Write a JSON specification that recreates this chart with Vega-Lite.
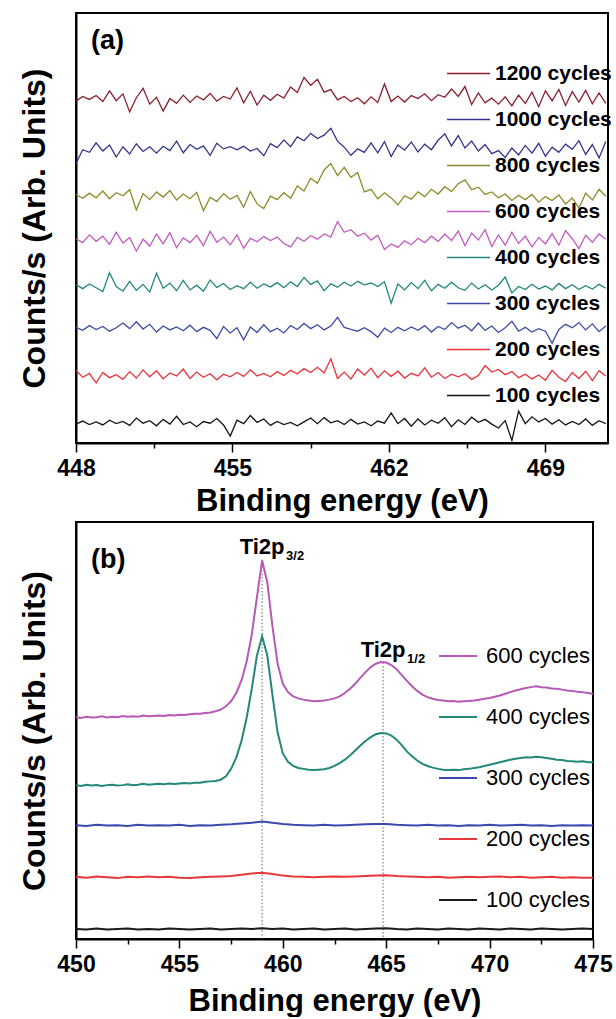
{
"$schema":"https://vega.github.io/schema/vega-lite/v6.json",
"padding":{"left":17,"top":12,"right":0,"bottom":0},
"background":"white",
"config":{
 "font":"Liberation Sans",
 "view":{"stroke":"black","strokeWidth":2},
 "axis":{"grid":false,"domainColor":"black","domainWidth":2,"tickColor":"black","tickWidth":1.5,"labelColor":"black","titleColor":"black","labelFont":"Liberation Sans","titleFont":"Liberation Sans","labelFontWeight":"bold","titleFontWeight":"bold","labelFontSize":23,"titleFontSize":31,"labelFlush":false,"labelOverlap":false},
 "legend":{"labelFont":"Liberation Sans","labelColor":"black"},
 "text":{"font":"Liberation Sans"}
},
"spacing":4,
"resolve":{"scale":{"x":"independent","y":"independent","color":"independent"},"legend":{"color":"independent"}},
"datasets":{
"peaks":[{"x":459.0,"y":91.0,"t":"Ti2p","sub":"3/2"},{"x":464.85,"y":66.3,"t":"Ti2p","sub":"1/2"}],
"a":[
{"s":"1200","x":448.0,"y":79.5},{"s":"1200","x":448.3,"y":80.6},{"s":"1200","x":448.6,"y":79.9},{"s":"1200","x":448.9,"y":80.8},{"s":"1200","x":449.2,"y":79.4},{"s":"1200","x":449.5,"y":81.9},{"s":"1200","x":449.8,"y":79.6},{"s":"1200","x":450.1,"y":81.2},{"s":"1200","x":450.4,"y":77.0},{"s":"1200","x":450.7,"y":80.3},
{"s":"1200","x":451.0,"y":82.5},{"s":"1200","x":451.3,"y":78.8},{"s":"1200","x":451.6,"y":80.4},{"s":"1200","x":451.9,"y":77.2},{"s":"1200","x":452.2,"y":80.1},{"s":"1200","x":452.5,"y":79.0},{"s":"1200","x":452.8,"y":80.9},{"s":"1200","x":453.1,"y":79.2},{"s":"1200","x":453.4,"y":80.7},{"s":"1200","x":453.7,"y":79.8},
{"s":"1200","x":454.0,"y":81.3},{"s":"1200","x":454.3,"y":79.5},{"s":"1200","x":454.6,"y":80.6},{"s":"1200","x":454.9,"y":80.0},{"s":"1200","x":455.2,"y":82.6},{"s":"1200","x":455.5,"y":79.1},{"s":"1200","x":455.8,"y":81.8},{"s":"1200","x":456.1,"y":78.6},{"s":"1200","x":456.4,"y":80.9},{"s":"1200","x":456.7,"y":79.7},
{"s":"1200","x":457.0,"y":81.1},{"s":"1200","x":457.3,"y":80.2},{"s":"1200","x":457.6,"y":82.8},{"s":"1200","x":457.9,"y":81.5},{"s":"1200","x":458.2,"y":85.0},{"s":"1200","x":458.5,"y":83.2},{"s":"1200","x":458.8,"y":84.6},{"s":"1200","x":459.1,"y":81.6},{"s":"1200","x":459.4,"y":82.2},{"s":"1200","x":459.7,"y":79.8},
{"s":"1200","x":460.0,"y":80.6},{"s":"1200","x":460.3,"y":79.4},{"s":"1200","x":460.6,"y":80.3},{"s":"1200","x":460.9,"y":78.9},{"s":"1200","x":461.2,"y":80.5},{"s":"1200","x":461.5,"y":79.2},{"s":"1200","x":461.8,"y":83.5},{"s":"1200","x":462.1,"y":79.4},{"s":"1200","x":462.4,"y":80.7},{"s":"1200","x":462.7,"y":79.3},
{"s":"1200","x":463.0,"y":80.8},{"s":"1200","x":463.3,"y":80.1},{"s":"1200","x":463.6,"y":81.2},{"s":"1200","x":463.9,"y":79.6},{"s":"1200","x":464.2,"y":81.0},{"s":"1200","x":464.5,"y":80.4},{"s":"1200","x":464.8,"y":82.3},{"s":"1200","x":465.1,"y":80.6},{"s":"1200","x":465.4,"y":82.9},{"s":"1200","x":465.7,"y":78.7},
{"s":"1200","x":466.0,"y":81.4},{"s":"1200","x":466.3,"y":79.1},{"s":"1200","x":466.6,"y":80.2},{"s":"1200","x":466.9,"y":78.8},{"s":"1200","x":467.2,"y":80.5},{"s":"1200","x":467.5,"y":78.4},{"s":"1200","x":467.8,"y":80.9},{"s":"1200","x":468.1,"y":79.0},{"s":"1200","x":468.4,"y":81.6},{"s":"1200","x":468.7,"y":78.2},
{"s":"1200","x":469.0,"y":81.9},{"s":"1200","x":469.3,"y":79.6},{"s":"1200","x":469.6,"y":82.2},{"s":"1200","x":469.9,"y":78.5},{"s":"1200","x":470.2,"y":81.7},{"s":"1200","x":470.5,"y":79.3},{"s":"1200","x":470.8,"y":82.0},{"s":"1200","x":471.1,"y":78.9},{"s":"1200","x":471.4,"y":81.4},{"s":"1200","x":471.7,"y":79.0},
{"s":"1000","x":448.0,"y":65.0},{"s":"1000","x":448.3,"y":68.2},{"s":"1000","x":448.6,"y":67.6},{"s":"1000","x":448.9,"y":69.8},{"s":"1000","x":449.2,"y":67.9},{"s":"1000","x":449.5,"y":69.3},{"s":"1000","x":449.8,"y":66.5},{"s":"1000","x":450.1,"y":68.9},{"s":"1000","x":450.4,"y":67.2},{"s":"1000","x":450.7,"y":69.6},
{"s":"1000","x":451.0,"y":67.8},{"s":"1000","x":451.3,"y":68.9},{"s":"1000","x":451.6,"y":67.4},{"s":"1000","x":451.9,"y":69.0},{"s":"1000","x":452.2,"y":68.0},{"s":"1000","x":452.5,"y":70.2},{"s":"1000","x":452.8,"y":67.5},{"s":"1000","x":453.1,"y":69.4},{"s":"1000","x":453.4,"y":68.3},{"s":"1000","x":453.7,"y":69.1},
{"s":"1000","x":454.0,"y":66.9},{"s":"1000","x":454.3,"y":69.7},{"s":"1000","x":454.6,"y":68.4},{"s":"1000","x":454.9,"y":68.9},{"s":"1000","x":455.2,"y":68.2},{"s":"1000","x":455.5,"y":69.0},{"s":"1000","x":455.8,"y":67.9},{"s":"1000","x":456.1,"y":68.5},{"s":"1000","x":456.4,"y":66.8},{"s":"1000","x":456.7,"y":69.6},
{"s":"1000","x":457.0,"y":68.7},{"s":"1000","x":457.3,"y":70.5},{"s":"1000","x":457.6,"y":68.9},{"s":"1000","x":457.9,"y":71.2},{"s":"1000","x":458.2,"y":70.3},{"s":"1000","x":458.5,"y":72.0},{"s":"1000","x":458.8,"y":70.8},{"s":"1000","x":459.1,"y":71.6},{"s":"1000","x":459.4,"y":73.2},{"s":"1000","x":459.7,"y":70.2},
{"s":"1000","x":460.0,"y":68.8},{"s":"1000","x":460.3,"y":66.9},{"s":"1000","x":460.6,"y":68.4},{"s":"1000","x":460.9,"y":67.6},{"s":"1000","x":461.2,"y":69.8},{"s":"1000","x":461.5,"y":67.5},{"s":"1000","x":461.8,"y":70.1},{"s":"1000","x":462.1,"y":66.6},{"s":"1000","x":462.4,"y":69.3},{"s":"1000","x":462.7,"y":68.1},
{"s":"1000","x":463.0,"y":70.0},{"s":"1000","x":463.3,"y":67.7},{"s":"1000","x":463.6,"y":69.5},{"s":"1000","x":463.9,"y":68.2},{"s":"1000","x":464.2,"y":70.4},{"s":"1000","x":464.5,"y":71.9},{"s":"1000","x":464.8,"y":69.1},{"s":"1000","x":465.1,"y":71.5},{"s":"1000","x":465.4,"y":68.6},{"s":"1000","x":465.7,"y":70.2},
{"s":"1000","x":466.0,"y":67.9},{"s":"1000","x":466.3,"y":69.4},{"s":"1000","x":466.6,"y":67.3},{"s":"1000","x":466.9,"y":68.0},{"s":"1000","x":467.2,"y":66.4},{"s":"1000","x":467.5,"y":68.6},{"s":"1000","x":467.8,"y":67.0},{"s":"1000","x":468.1,"y":69.2},{"s":"1000","x":468.4,"y":67.4},{"s":"1000","x":468.7,"y":69.7},
{"s":"1000","x":469.0,"y":66.7},{"s":"1000","x":469.3,"y":68.8},{"s":"1000","x":469.6,"y":67.6},{"s":"1000","x":469.9,"y":69.5},{"s":"1000","x":470.2,"y":68.3},{"s":"1000","x":470.5,"y":70.3},{"s":"1000","x":470.8,"y":67.1},{"s":"1000","x":471.1,"y":69.4},{"s":"1000","x":471.4,"y":66.3},{"s":"1000","x":471.7,"y":70.1},
{"s":"800","x":448.0,"y":57.8},{"s":"800","x":448.3,"y":56.9},{"s":"800","x":448.6,"y":58.1},{"s":"800","x":448.9,"y":57.0},{"s":"800","x":449.2,"y":58.6},{"s":"800","x":449.5,"y":56.8},{"s":"800","x":449.8,"y":58.2},{"s":"800","x":450.1,"y":57.5},{"s":"800","x":450.4,"y":58.9},{"s":"800","x":450.7,"y":54.2},
{"s":"800","x":451.0,"y":58.0},{"s":"800","x":451.3,"y":56.6},{"s":"800","x":451.6,"y":58.4},{"s":"800","x":451.9,"y":57.2},{"s":"800","x":452.2,"y":58.7},{"s":"800","x":452.5,"y":56.5},{"s":"800","x":452.8,"y":57.9},{"s":"800","x":453.1,"y":56.8},{"s":"800","x":453.4,"y":58.3},{"s":"800","x":453.7,"y":54.0},
{"s":"800","x":454.0,"y":57.1},{"s":"800","x":454.3,"y":56.2},{"s":"800","x":454.6,"y":58.0},{"s":"800","x":454.9,"y":56.7},{"s":"800","x":455.2,"y":57.6},{"s":"800","x":455.5,"y":54.8},{"s":"800","x":455.8,"y":58.5},{"s":"800","x":456.1,"y":55.6},{"s":"800","x":456.4,"y":54.5},{"s":"800","x":456.7,"y":57.4},
{"s":"800","x":457.0,"y":56.6},{"s":"800","x":457.3,"y":58.2},{"s":"800","x":457.6,"y":56.9},{"s":"800","x":457.9,"y":59.8},{"s":"800","x":458.2,"y":58.6},{"s":"800","x":458.5,"y":61.6},{"s":"800","x":458.8,"y":60.4},{"s":"800","x":459.1,"y":63.5},{"s":"800","x":459.4,"y":65.0},{"s":"800","x":459.7,"y":62.2},
{"s":"800","x":460.0,"y":64.1},{"s":"800","x":460.3,"y":61.8},{"s":"800","x":460.6,"y":62.9},{"s":"800","x":460.9,"y":58.4},{"s":"800","x":461.2,"y":59.0},{"s":"800","x":461.5,"y":56.8},{"s":"800","x":461.8,"y":58.2},{"s":"800","x":462.1,"y":57.0},{"s":"800","x":462.4,"y":55.4},{"s":"800","x":462.7,"y":57.5},
{"s":"800","x":463.0,"y":56.7},{"s":"800","x":463.3,"y":58.4},{"s":"800","x":463.6,"y":57.3},{"s":"800","x":463.9,"y":59.0},{"s":"800","x":464.2,"y":57.9},{"s":"800","x":464.5,"y":59.6},{"s":"800","x":464.8,"y":58.5},{"s":"800","x":465.1,"y":60.3},{"s":"800","x":465.4,"y":61.2},{"s":"800","x":465.7,"y":58.9},
{"s":"800","x":466.0,"y":59.5},{"s":"800","x":466.3,"y":57.8},{"s":"800","x":466.6,"y":58.4},{"s":"800","x":466.9,"y":57.0},{"s":"800","x":467.2,"y":57.9},{"s":"800","x":467.5,"y":56.4},{"s":"800","x":467.8,"y":57.6},{"s":"800","x":468.1,"y":56.6},{"s":"800","x":468.4,"y":57.8},{"s":"800","x":468.7,"y":56.0},
{"s":"800","x":469.0,"y":57.3},{"s":"800","x":469.3,"y":56.4},{"s":"800","x":469.6,"y":57.7},{"s":"800","x":469.9,"y":55.6},{"s":"800","x":470.2,"y":57.0},{"s":"800","x":470.5,"y":54.6},{"s":"800","x":470.8,"y":58.1},{"s":"800","x":471.1,"y":56.5},{"s":"800","x":471.4,"y":59.0},{"s":"800","x":471.7,"y":57.4},
{"s":"600","x":448.0,"y":47.5},{"s":"600","x":448.3,"y":46.6},{"s":"600","x":448.6,"y":48.4},{"s":"600","x":448.9,"y":46.9},{"s":"600","x":449.2,"y":48.1},{"s":"600","x":449.5,"y":46.2},{"s":"600","x":449.8,"y":49.0},{"s":"600","x":450.1,"y":46.5},{"s":"600","x":450.4,"y":47.8},{"s":"600","x":450.7,"y":44.6},
{"s":"600","x":451.0,"y":47.4},{"s":"600","x":451.3,"y":45.8},{"s":"600","x":451.6,"y":48.6},{"s":"600","x":451.9,"y":46.3},{"s":"600","x":452.2,"y":48.9},{"s":"600","x":452.5,"y":45.4},{"s":"600","x":452.8,"y":47.7},{"s":"600","x":453.1,"y":46.6},{"s":"600","x":453.4,"y":48.3},{"s":"600","x":453.7,"y":45.9},
{"s":"600","x":454.0,"y":49.2},{"s":"600","x":454.3,"y":46.7},{"s":"600","x":454.6,"y":47.9},{"s":"600","x":454.9,"y":46.1},{"s":"600","x":455.2,"y":48.4},{"s":"600","x":455.5,"y":45.3},{"s":"600","x":455.8,"y":47.6},{"s":"600","x":456.1,"y":46.8},{"s":"600","x":456.4,"y":48.0},{"s":"600","x":456.7,"y":47.1},
{"s":"600","x":457.0,"y":47.9},{"s":"600","x":457.3,"y":46.4},{"s":"600","x":457.6,"y":45.6},{"s":"600","x":457.9,"y":47.8},{"s":"600","x":458.2,"y":46.9},{"s":"600","x":458.5,"y":48.2},{"s":"600","x":458.8,"y":47.4},{"s":"600","x":459.1,"y":48.6},{"s":"600","x":459.4,"y":47.9},{"s":"600","x":459.7,"y":51.5},
{"s":"600","x":460.0,"y":49.0},{"s":"600","x":460.3,"y":49.6},{"s":"600","x":460.6,"y":48.1},{"s":"600","x":460.9,"y":48.8},{"s":"600","x":461.2,"y":47.2},{"s":"600","x":461.5,"y":48.3},{"s":"600","x":461.8,"y":45.0},{"s":"600","x":462.1,"y":46.3},{"s":"600","x":462.4,"y":45.5},{"s":"600","x":462.7,"y":47.0},
{"s":"600","x":463.0,"y":46.1},{"s":"600","x":463.3,"y":47.6},{"s":"600","x":463.6,"y":46.6},{"s":"600","x":463.9,"y":48.1},{"s":"600","x":464.2,"y":46.9},{"s":"600","x":464.5,"y":48.6},{"s":"600","x":464.8,"y":47.1},{"s":"600","x":465.1,"y":49.3},{"s":"600","x":465.4,"y":45.9},{"s":"600","x":465.7,"y":48.8},
{"s":"600","x":466.0,"y":47.2},{"s":"600","x":466.3,"y":49.6},{"s":"600","x":466.6,"y":45.7},{"s":"600","x":466.9,"y":48.4},{"s":"600","x":467.2,"y":46.0},{"s":"600","x":467.5,"y":49.0},{"s":"600","x":467.8,"y":46.4},{"s":"600","x":468.1,"y":48.1},{"s":"600","x":468.4,"y":45.6},{"s":"600","x":468.7,"y":47.8},
{"s":"600","x":469.0,"y":46.3},{"s":"600","x":469.3,"y":48.7},{"s":"600","x":469.6,"y":46.0},{"s":"600","x":469.9,"y":49.4},{"s":"600","x":470.2,"y":47.5},{"s":"600","x":470.5,"y":45.2},{"s":"600","x":470.8,"y":48.3},{"s":"600","x":471.1,"y":46.7},{"s":"600","x":471.4,"y":48.6},{"s":"600","x":471.7,"y":47.4},
{"s":"400","x":448.0,"y":36.8},{"s":"400","x":448.3,"y":35.9},{"s":"400","x":448.6,"y":37.0},{"s":"400","x":448.9,"y":36.1},{"s":"400","x":449.2,"y":35.2},{"s":"400","x":449.5,"y":39.6},{"s":"400","x":449.8,"y":36.4},{"s":"400","x":450.1,"y":35.3},{"s":"400","x":450.4,"y":37.6},{"s":"400","x":450.7,"y":35.5},
{"s":"400","x":451.0,"y":36.9},{"s":"400","x":451.3,"y":35.1},{"s":"400","x":451.6,"y":39.5},{"s":"400","x":451.9,"y":36.0},{"s":"400","x":452.2,"y":37.2},{"s":"400","x":452.5,"y":35.4},{"s":"400","x":452.8,"y":37.8},{"s":"400","x":453.1,"y":35.6},{"s":"400","x":453.4,"y":36.7},{"s":"400","x":453.7,"y":35.3},
{"s":"400","x":454.0,"y":37.9},{"s":"400","x":454.3,"y":36.2},{"s":"400","x":454.6,"y":37.1},{"s":"400","x":454.9,"y":35.7},{"s":"400","x":455.2,"y":36.6},{"s":"400","x":455.5,"y":35.9},{"s":"400","x":455.8,"y":37.4},{"s":"400","x":456.1,"y":36.0},{"s":"400","x":456.4,"y":37.0},{"s":"400","x":456.7,"y":36.3},
{"s":"400","x":457.0,"y":37.3},{"s":"400","x":457.3,"y":36.1},{"s":"400","x":457.6,"y":37.5},{"s":"400","x":457.9,"y":36.4},{"s":"400","x":458.2,"y":38.5},{"s":"400","x":458.5,"y":36.9},{"s":"400","x":458.8,"y":37.7},{"s":"400","x":459.1,"y":35.4},{"s":"400","x":459.4,"y":37.0},{"s":"400","x":459.7,"y":36.2},
{"s":"400","x":460.0,"y":37.4},{"s":"400","x":460.3,"y":36.5},{"s":"400","x":460.6,"y":37.6},{"s":"400","x":460.9,"y":36.8},{"s":"400","x":461.2,"y":37.2},{"s":"400","x":461.5,"y":36.4},{"s":"400","x":461.8,"y":37.5},{"s":"400","x":462.1,"y":32.5},{"s":"400","x":462.4,"y":37.0},{"s":"400","x":462.7,"y":35.6},
{"s":"400","x":463.0,"y":37.3},{"s":"400","x":463.3,"y":35.9},{"s":"400","x":463.6,"y":37.8},{"s":"400","x":463.9,"y":35.4},{"s":"400","x":464.2,"y":36.9},{"s":"400","x":464.5,"y":36.0},{"s":"400","x":464.8,"y":37.4},{"s":"400","x":465.1,"y":36.1},{"s":"400","x":465.4,"y":35.5},{"s":"400","x":465.7,"y":37.2},
{"s":"400","x":466.0,"y":35.8},{"s":"400","x":466.3,"y":36.8},{"s":"400","x":466.6,"y":35.6},{"s":"400","x":466.9,"y":36.7},{"s":"400","x":467.2,"y":38.6},{"s":"400","x":467.5,"y":34.9},{"s":"400","x":467.8,"y":36.4},{"s":"400","x":468.1,"y":35.7},{"s":"400","x":468.4,"y":36.9},{"s":"400","x":468.7,"y":35.8},
{"s":"400","x":469.0,"y":36.5},{"s":"400","x":469.3,"y":35.6},{"s":"400","x":469.6,"y":37.1},{"s":"400","x":469.9,"y":35.9},{"s":"400","x":470.2,"y":36.8},{"s":"400","x":470.5,"y":35.7},{"s":"400","x":470.8,"y":36.6},{"s":"400","x":471.1,"y":35.8},{"s":"400","x":471.4,"y":36.9},{"s":"400","x":471.7,"y":36.0},
{"s":"300","x":448.0,"y":26.9},{"s":"300","x":448.3,"y":26.2},{"s":"300","x":448.6,"y":27.3},{"s":"300","x":448.9,"y":26.4},{"s":"300","x":449.2,"y":27.1},{"s":"300","x":449.5,"y":26.0},{"s":"300","x":449.8,"y":26.8},{"s":"300","x":450.1,"y":27.9},{"s":"300","x":450.4,"y":26.6},{"s":"300","x":450.7,"y":28.2},
{"s":"300","x":451.0,"y":26.5},{"s":"300","x":451.3,"y":27.6},{"s":"300","x":451.6,"y":25.8},{"s":"300","x":451.9,"y":27.2},{"s":"300","x":452.2,"y":26.3},{"s":"300","x":452.5,"y":27.0},{"s":"300","x":452.8,"y":26.1},{"s":"300","x":453.1,"y":27.4},{"s":"300","x":453.4,"y":25.9},{"s":"300","x":453.7,"y":26.9},
{"s":"300","x":454.0,"y":26.2},{"s":"300","x":454.3,"y":24.3},{"s":"300","x":454.6,"y":27.1},{"s":"300","x":454.9,"y":25.6},{"s":"300","x":455.2,"y":26.8},{"s":"300","x":455.5,"y":24.0},{"s":"300","x":455.8,"y":27.0},{"s":"300","x":456.1,"y":25.7},{"s":"300","x":456.4,"y":27.5},{"s":"300","x":456.7,"y":25.9},
{"s":"300","x":457.0,"y":26.7},{"s":"300","x":457.3,"y":25.6},{"s":"300","x":457.6,"y":27.3},{"s":"300","x":457.9,"y":26.4},{"s":"300","x":458.2,"y":27.8},{"s":"300","x":458.5,"y":26.6},{"s":"300","x":458.8,"y":27.5},{"s":"300","x":459.1,"y":26.3},{"s":"300","x":459.4,"y":27.2},{"s":"300","x":459.7,"y":29.2},
{"s":"300","x":460.0,"y":26.9},{"s":"300","x":460.3,"y":26.4},{"s":"300","x":460.6,"y":26.0},{"s":"300","x":460.9,"y":26.8},{"s":"300","x":461.2,"y":25.9},{"s":"300","x":461.5,"y":24.6},{"s":"300","x":461.8,"y":26.7},{"s":"300","x":462.1,"y":25.7},{"s":"300","x":462.4,"y":26.9},{"s":"300","x":462.7,"y":26.1},
{"s":"300","x":463.0,"y":27.0},{"s":"300","x":463.3,"y":26.2},{"s":"300","x":463.6,"y":27.3},{"s":"300","x":463.9,"y":25.8},{"s":"300","x":464.2,"y":27.1},{"s":"300","x":464.5,"y":26.4},{"s":"300","x":464.8,"y":28.0},{"s":"300","x":465.1,"y":26.7},{"s":"300","x":465.4,"y":27.4},{"s":"300","x":465.7,"y":26.1},
{"s":"300","x":466.0,"y":27.9},{"s":"300","x":466.3,"y":26.2},{"s":"300","x":466.6,"y":27.2},{"s":"300","x":466.9,"y":25.7},{"s":"300","x":467.2,"y":26.8},{"s":"300","x":467.5,"y":28.3},{"s":"300","x":467.8,"y":26.0},{"s":"300","x":468.1,"y":26.9},{"s":"300","x":468.4,"y":25.8},{"s":"300","x":468.7,"y":26.6},
{"s":"300","x":469.0,"y":26.0},{"s":"300","x":469.3,"y":23.2},{"s":"300","x":469.6,"y":26.4},{"s":"300","x":469.9,"y":27.6},{"s":"300","x":470.2,"y":26.8},{"s":"300","x":470.5,"y":28.0},{"s":"300","x":470.8,"y":26.3},{"s":"300","x":471.1,"y":27.7},{"s":"300","x":471.4,"y":25.9},{"s":"300","x":471.7,"y":27.2},
{"s":"200","x":448.0,"y":16.9},{"s":"200","x":448.3,"y":15.3},{"s":"200","x":448.6,"y":16.2},{"s":"200","x":448.9,"y":14.0},{"s":"200","x":449.2,"y":16.4},{"s":"200","x":449.5,"y":15.2},{"s":"200","x":449.8,"y":15.9},{"s":"200","x":450.1,"y":14.8},{"s":"200","x":450.4,"y":16.6},{"s":"200","x":450.7,"y":15.1},
{"s":"200","x":451.0,"y":17.0},{"s":"200","x":451.3,"y":15.4},{"s":"200","x":451.6,"y":16.8},{"s":"200","x":451.9,"y":14.9},{"s":"200","x":452.2,"y":16.3},{"s":"200","x":452.5,"y":15.6},{"s":"200","x":452.8,"y":17.2},{"s":"200","x":453.1,"y":15.0},{"s":"200","x":453.4,"y":16.5},{"s":"200","x":453.7,"y":15.3},
{"s":"200","x":454.0,"y":16.1},{"s":"200","x":454.3,"y":14.7},{"s":"200","x":454.6,"y":16.0},{"s":"200","x":454.9,"y":15.4},{"s":"200","x":455.2,"y":16.4},{"s":"200","x":455.5,"y":15.5},{"s":"200","x":455.8,"y":17.0},{"s":"200","x":456.1,"y":15.6},{"s":"200","x":456.4,"y":16.2},{"s":"200","x":456.7,"y":15.4},
{"s":"200","x":457.0,"y":16.6},{"s":"200","x":457.3,"y":15.7},{"s":"200","x":457.6,"y":16.9},{"s":"200","x":457.9,"y":16.1},{"s":"200","x":458.2,"y":17.3},{"s":"200","x":458.5,"y":16.4},{"s":"200","x":458.8,"y":17.6},{"s":"200","x":459.1,"y":16.3},{"s":"200","x":459.4,"y":19.6},{"s":"200","x":459.7,"y":15.0},
{"s":"200","x":460.0,"y":16.5},{"s":"200","x":460.3,"y":14.9},{"s":"200","x":460.6,"y":17.2},{"s":"200","x":460.9,"y":15.8},{"s":"200","x":461.2,"y":17.4},{"s":"200","x":461.5,"y":15.2},{"s":"200","x":461.8,"y":16.8},{"s":"200","x":462.1,"y":15.5},{"s":"200","x":462.4,"y":16.7},{"s":"200","x":462.7,"y":15.1},
{"s":"200","x":463.0,"y":16.2},{"s":"200","x":463.3,"y":15.6},{"s":"200","x":463.6,"y":17.5},{"s":"200","x":463.9,"y":15.3},{"s":"200","x":464.2,"y":16.4},{"s":"200","x":464.5,"y":15.0},{"s":"200","x":464.8,"y":16.0},{"s":"200","x":465.1,"y":15.4},{"s":"200","x":465.4,"y":16.1},{"s":"200","x":465.7,"y":14.8},
{"s":"200","x":466.0,"y":15.7},{"s":"200","x":466.3,"y":18.0},{"s":"200","x":466.6,"y":16.5},{"s":"200","x":466.9,"y":17.1},{"s":"200","x":467.2,"y":15.9},{"s":"200","x":467.5,"y":16.6},{"s":"200","x":467.8,"y":15.2},{"s":"200","x":468.1,"y":16.0},{"s":"200","x":468.4,"y":14.9},{"s":"200","x":468.7,"y":15.8},
{"s":"200","x":469.0,"y":14.6},{"s":"200","x":469.3,"y":16.9},{"s":"200","x":469.6,"y":15.3},{"s":"200","x":469.9,"y":14.3},{"s":"200","x":470.2,"y":16.4},{"s":"200","x":470.5,"y":15.0},{"s":"200","x":470.8,"y":16.7},{"s":"200","x":471.1,"y":14.5},{"s":"200","x":471.4,"y":16.8},{"s":"200","x":471.7,"y":15.6},
{"s":"100","x":448.0,"y":4.4},{"s":"100","x":448.3,"y":5.1},{"s":"100","x":448.6,"y":4.3},{"s":"100","x":448.9,"y":4.9},{"s":"100","x":449.2,"y":4.2},{"s":"100","x":449.5,"y":5.3},{"s":"100","x":449.8,"y":4.5},{"s":"100","x":450.1,"y":5.0},{"s":"100","x":450.4,"y":4.1},{"s":"100","x":450.7,"y":5.8},
{"s":"100","x":451.0,"y":4.6},{"s":"100","x":451.3,"y":5.2},{"s":"100","x":451.6,"y":4.0},{"s":"100","x":451.9,"y":5.5},{"s":"100","x":452.2,"y":4.4},{"s":"100","x":452.5,"y":6.2},{"s":"100","x":452.8,"y":4.3},{"s":"100","x":453.1,"y":4.9},{"s":"100","x":453.4,"y":3.8},{"s":"100","x":453.7,"y":5.0},
{"s":"100","x":454.0,"y":4.6},{"s":"100","x":454.3,"y":5.7},{"s":"100","x":454.6,"y":4.2},{"s":"100","x":454.9,"y":1.6},{"s":"100","x":455.2,"y":5.3},{"s":"100","x":455.5,"y":4.5},{"s":"100","x":455.8,"y":6.4},{"s":"100","x":456.1,"y":4.8},{"s":"100","x":456.4,"y":5.6},{"s":"100","x":456.7,"y":4.1},
{"s":"100","x":457.0,"y":5.0},{"s":"100","x":457.3,"y":4.3},{"s":"100","x":457.6,"y":4.8},{"s":"100","x":457.9,"y":4.0},{"s":"100","x":458.2,"y":4.9},{"s":"100","x":458.5,"y":5.8},{"s":"100","x":458.8,"y":4.5},{"s":"100","x":459.1,"y":5.9},{"s":"100","x":459.4,"y":4.7},{"s":"100","x":459.7,"y":5.2},
{"s":"100","x":460.0,"y":4.3},{"s":"100","x":460.3,"y":5.5},{"s":"100","x":460.6,"y":4.4},{"s":"100","x":460.9,"y":4.9},{"s":"100","x":461.2,"y":4.0},{"s":"100","x":461.5,"y":5.1},{"s":"100","x":461.8,"y":4.6},{"s":"100","x":462.1,"y":7.0},{"s":"100","x":462.4,"y":4.5},{"s":"100","x":462.7,"y":5.7},
{"s":"100","x":463.0,"y":3.9},{"s":"100","x":463.3,"y":5.6},{"s":"100","x":463.6,"y":4.2},{"s":"100","x":463.9,"y":5.3},{"s":"100","x":464.2,"y":4.6},{"s":"100","x":464.5,"y":5.9},{"s":"100","x":464.8,"y":3.8},{"s":"100","x":465.1,"y":5.4},{"s":"100","x":465.4,"y":4.3},{"s":"100","x":465.7,"y":6.0},
{"s":"100","x":466.0,"y":4.8},{"s":"100","x":466.3,"y":5.5},{"s":"100","x":466.6,"y":4.4},{"s":"100","x":466.9,"y":3.5},{"s":"100","x":467.2,"y":5.2},{"s":"100","x":467.5,"y":0.6},{"s":"100","x":467.8,"y":7.4},{"s":"100","x":468.1,"y":4.5},{"s":"100","x":468.4,"y":6.1},{"s":"100","x":468.7,"y":4.9},
{"s":"100","x":469.0,"y":5.7},{"s":"100","x":469.3,"y":4.4},{"s":"100","x":469.6,"y":5.4},{"s":"100","x":469.9,"y":4.2},{"s":"100","x":470.2,"y":5.0},{"s":"100","x":470.5,"y":4.3},{"s":"100","x":470.8,"y":5.6},{"s":"100","x":471.1,"y":4.1},{"s":"100","x":471.4,"y":5.2},{"s":"100","x":471.7,"y":4.5}
],
"b":[
{"s":"600","x":450.0,"y":53.2},{"s":"600","x":450.25,"y":53.0},{"s":"600","x":450.5,"y":53.3},{"s":"600","x":450.75,"y":53.1},{"s":"600","x":451.0,"y":53.2},{"s":"600","x":451.25,"y":53.4},{"s":"600","x":451.5,"y":53.1},{"s":"600","x":451.75,"y":53.3},{"s":"600","x":452.0,"y":53.2},{"s":"600","x":452.25,"y":53.5},
{"s":"600","x":452.5,"y":53.3},{"s":"600","x":452.75,"y":53.4},{"s":"600","x":453.0,"y":53.3},{"s":"600","x":453.25,"y":53.6},{"s":"600","x":453.5,"y":53.4},{"s":"600","x":453.75,"y":53.5},{"s":"600","x":454.0,"y":53.6},{"s":"600","x":454.25,"y":53.5},{"s":"600","x":454.5,"y":53.7},{"s":"600","x":454.75,"y":53.6},
{"s":"600","x":455.0,"y":53.8},{"s":"600","x":455.25,"y":53.7},{"s":"600","x":455.5,"y":53.9},{"s":"600","x":455.75,"y":54.0},{"s":"600","x":456.0,"y":54.0},{"s":"600","x":456.25,"y":54.2},{"s":"600","x":456.5,"y":54.3},{"s":"600","x":456.75,"y":54.6},{"s":"600","x":457.0,"y":55.0},{"s":"600","x":457.25,"y":55.8},
{"s":"600","x":457.5,"y":57.0},{"s":"600","x":457.75,"y":59.0},{"s":"600","x":458.0,"y":62.0},{"s":"600","x":458.25,"y":66.5},{"s":"600","x":458.5,"y":73.0},{"s":"600","x":458.75,"y":82.0},{"s":"600","x":459.0,"y":90.8},{"s":"600","x":459.25,"y":85.5},{"s":"600","x":459.5,"y":75.0},{"s":"600","x":459.75,"y":66.0},
{"s":"600","x":460.0,"y":61.2},{"s":"600","x":460.25,"y":59.2},{"s":"600","x":460.5,"y":58.2},{"s":"600","x":460.75,"y":57.7},{"s":"600","x":461.0,"y":57.4},{"s":"600","x":461.25,"y":57.2},{"s":"600","x":461.5,"y":57.0},{"s":"600","x":461.75,"y":57.1},{"s":"600","x":462.0,"y":57.2},{"s":"600","x":462.25,"y":57.4},
{"s":"600","x":462.5,"y":57.7},{"s":"600","x":462.75,"y":58.2},{"s":"600","x":463.0,"y":59.0},{"s":"600","x":463.25,"y":60.0},{"s":"600","x":463.5,"y":61.2},{"s":"600","x":463.75,"y":62.6},{"s":"600","x":464.0,"y":64.0},{"s":"600","x":464.25,"y":65.2},{"s":"600","x":464.5,"y":66.0},{"s":"600","x":464.75,"y":66.4},
{"s":"600","x":465.0,"y":66.3},{"s":"600","x":465.25,"y":65.7},{"s":"600","x":465.5,"y":64.7},{"s":"600","x":465.75,"y":63.3},{"s":"600","x":466.0,"y":61.9},{"s":"600","x":466.25,"y":60.6},{"s":"600","x":466.5,"y":59.5},{"s":"600","x":466.75,"y":58.6},{"s":"600","x":467.0,"y":58.0},{"s":"600","x":467.25,"y":57.6},
{"s":"600","x":467.5,"y":57.3},{"s":"600","x":467.75,"y":57.2},{"s":"600","x":468.0,"y":57.0},{"s":"600","x":468.25,"y":57.1},{"s":"600","x":468.5,"y":56.9},{"s":"600","x":468.75,"y":57.0},{"s":"600","x":469.0,"y":57.1},{"s":"600","x":469.25,"y":57.2},{"s":"600","x":469.5,"y":57.4},{"s":"600","x":469.75,"y":57.6},
{"s":"600","x":470.0,"y":57.8},{"s":"600","x":470.25,"y":58.1},{"s":"600","x":470.5,"y":58.4},{"s":"600","x":470.75,"y":58.8},{"s":"600","x":471.0,"y":59.2},{"s":"600","x":471.25,"y":59.6},{"s":"600","x":471.5,"y":59.9},{"s":"600","x":471.75,"y":60.2},{"s":"600","x":472.0,"y":60.4},{"s":"600","x":472.25,"y":60.6},
{"s":"600","x":472.5,"y":60.4},{"s":"600","x":472.75,"y":60.3},{"s":"600","x":473.0,"y":60.1},{"s":"600","x":473.25,"y":60.0},{"s":"600","x":473.5,"y":59.8},{"s":"600","x":473.75,"y":59.6},{"s":"600","x":474.0,"y":59.5},{"s":"600","x":474.25,"y":59.3},{"s":"600","x":474.5,"y":59.2},{"s":"600","x":474.75,"y":59.0},{"s":"600","x":475.0,"y":58.8},
{"s":"400","x":450.0,"y":36.9},{"s":"400","x":450.25,"y":36.7},{"s":"400","x":450.5,"y":37.0},{"s":"400","x":450.75,"y":36.8},{"s":"400","x":451.0,"y":36.9},{"s":"400","x":451.25,"y":36.7},{"s":"400","x":451.5,"y":36.9},{"s":"400","x":451.75,"y":37.0},{"s":"400","x":452.0,"y":36.8},{"s":"400","x":452.25,"y":36.9},
{"s":"400","x":452.5,"y":37.1},{"s":"400","x":452.75,"y":36.9},{"s":"400","x":453.0,"y":37.0},{"s":"400","x":453.25,"y":37.2},{"s":"400","x":453.5,"y":37.0},{"s":"400","x":453.75,"y":37.1},{"s":"400","x":454.0,"y":37.2},{"s":"400","x":454.25,"y":37.1},{"s":"400","x":454.5,"y":37.3},{"s":"400","x":454.75,"y":37.2},
{"s":"400","x":455.0,"y":37.3},{"s":"400","x":455.25,"y":37.4},{"s":"400","x":455.5,"y":37.3},{"s":"400","x":455.75,"y":37.5},{"s":"400","x":456.0,"y":37.5},{"s":"400","x":456.25,"y":37.7},{"s":"400","x":456.5,"y":37.8},{"s":"400","x":456.75,"y":37.9},{"s":"400","x":457.0,"y":38.2},{"s":"400","x":457.25,"y":39.0},
{"s":"400","x":457.5,"y":40.8},{"s":"400","x":457.75,"y":43.5},{"s":"400","x":458.0,"y":47.5},{"s":"400","x":458.25,"y":53.0},{"s":"400","x":458.5,"y":60.0},{"s":"400","x":458.75,"y":68.0},{"s":"400","x":459.0,"y":72.6},{"s":"400","x":459.25,"y":68.0},{"s":"400","x":459.5,"y":58.5},{"s":"400","x":459.75,"y":49.5},
{"s":"400","x":460.0,"y":44.5},{"s":"400","x":460.25,"y":42.5},{"s":"400","x":460.5,"y":41.5},{"s":"400","x":460.75,"y":41.0},{"s":"400","x":461.0,"y":40.8},{"s":"400","x":461.25,"y":40.6},{"s":"400","x":461.5,"y":40.5},{"s":"400","x":461.75,"y":40.6},{"s":"400","x":462.0,"y":40.7},{"s":"400","x":462.25,"y":41.0},
{"s":"400","x":462.5,"y":41.5},{"s":"400","x":462.75,"y":42.2},{"s":"400","x":463.0,"y":43.0},{"s":"400","x":463.25,"y":44.0},{"s":"400","x":463.5,"y":45.2},{"s":"400","x":463.75,"y":46.4},{"s":"400","x":464.0,"y":47.5},{"s":"400","x":464.25,"y":48.4},{"s":"400","x":464.5,"y":49.1},{"s":"400","x":464.75,"y":49.4},
{"s":"400","x":465.0,"y":49.3},{"s":"400","x":465.25,"y":48.8},{"s":"400","x":465.5,"y":47.8},{"s":"400","x":465.75,"y":46.5},{"s":"400","x":466.0,"y":45.0},{"s":"400","x":466.25,"y":43.8},{"s":"400","x":466.5,"y":42.8},{"s":"400","x":466.75,"y":42.0},{"s":"400","x":467.0,"y":41.5},{"s":"400","x":467.25,"y":41.1},
{"s":"400","x":467.5,"y":40.8},{"s":"400","x":467.75,"y":40.6},{"s":"400","x":468.0,"y":40.5},{"s":"400","x":468.25,"y":40.6},{"s":"400","x":468.5,"y":40.5},{"s":"400","x":468.75,"y":40.7},{"s":"400","x":469.0,"y":40.8},{"s":"400","x":469.25,"y":41.0},{"s":"400","x":469.5,"y":41.2},{"s":"400","x":469.75,"y":41.5},
{"s":"400","x":470.0,"y":41.8},{"s":"400","x":470.25,"y":42.1},{"s":"400","x":470.5,"y":42.4},{"s":"400","x":470.75,"y":42.7},{"s":"400","x":471.0,"y":43.0},{"s":"400","x":471.25,"y":43.2},{"s":"400","x":471.5,"y":43.4},{"s":"400","x":471.75,"y":43.6},{"s":"400","x":472.0,"y":43.5},{"s":"400","x":472.25,"y":43.7},
{"s":"400","x":472.5,"y":43.6},{"s":"400","x":472.75,"y":43.4},{"s":"400","x":473.0,"y":43.2},{"s":"400","x":473.25,"y":43.0},{"s":"400","x":473.5,"y":42.9},{"s":"400","x":473.75,"y":42.7},{"s":"400","x":474.0,"y":42.6},{"s":"400","x":474.25,"y":42.5},{"s":"400","x":474.5,"y":42.6},{"s":"400","x":474.75,"y":42.4},{"s":"400","x":475.0,"y":42.4},
{"s":"300","x":450.0,"y":27.3},{"s":"300","x":450.5,"y":27.1},{"s":"300","x":451.0,"y":27.4},{"s":"300","x":451.5,"y":27.2},{"s":"300","x":452.0,"y":27.3},{"s":"300","x":452.5,"y":27.1},{"s":"300","x":453.0,"y":27.4},{"s":"300","x":453.5,"y":27.2},{"s":"300","x":454.0,"y":27.3},{"s":"300","x":454.5,"y":27.2},
{"s":"300","x":455.0,"y":27.4},{"s":"300","x":455.5,"y":27.1},{"s":"300","x":456.0,"y":27.3},{"s":"300","x":456.5,"y":27.2},{"s":"300","x":457.0,"y":27.4},{"s":"300","x":457.5,"y":27.5},{"s":"300","x":458.0,"y":27.7},{"s":"300","x":458.5,"y":27.9},{"s":"300","x":459.0,"y":28.2},{"s":"300","x":459.5,"y":27.9},
{"s":"300","x":460.0,"y":27.6},{"s":"300","x":460.5,"y":27.4},{"s":"300","x":461.0,"y":27.3},{"s":"300","x":461.5,"y":27.2},{"s":"300","x":462.0,"y":27.4},{"s":"300","x":462.5,"y":27.2},{"s":"300","x":463.0,"y":27.3},{"s":"300","x":463.5,"y":27.4},{"s":"300","x":464.0,"y":27.5},{"s":"300","x":464.5,"y":27.6},
{"s":"300","x":465.0,"y":27.6},{"s":"300","x":465.5,"y":27.4},{"s":"300","x":466.0,"y":27.3},{"s":"300","x":466.5,"y":27.2},{"s":"300","x":467.0,"y":27.4},{"s":"300","x":467.5,"y":27.2},{"s":"300","x":468.0,"y":27.3},{"s":"300","x":468.5,"y":27.1},{"s":"300","x":469.0,"y":27.3},{"s":"300","x":469.5,"y":27.2},
{"s":"300","x":470.0,"y":27.4},{"s":"300","x":470.5,"y":27.2},{"s":"300","x":471.0,"y":27.3},{"s":"300","x":471.5,"y":27.4},{"s":"300","x":472.0,"y":27.2},{"s":"300","x":472.5,"y":27.3},{"s":"300","x":473.0,"y":27.1},{"s":"300","x":473.5,"y":27.3},{"s":"300","x":474.0,"y":27.2},{"s":"300","x":474.5,"y":27.3},{"s":"300","x":475.0,"y":27.2},
{"s":"200","x":450.0,"y":14.9},{"s":"200","x":450.5,"y":14.7},{"s":"200","x":451.0,"y":15.0},{"s":"200","x":451.5,"y":14.8},{"s":"200","x":452.0,"y":14.6},{"s":"200","x":452.5,"y":14.9},{"s":"200","x":453.0,"y":14.8},{"s":"200","x":453.5,"y":15.0},{"s":"200","x":454.0,"y":14.8},{"s":"200","x":454.5,"y":14.9},
{"s":"200","x":455.0,"y":14.7},{"s":"200","x":455.5,"y":14.6},{"s":"200","x":456.0,"y":14.8},{"s":"200","x":456.5,"y":14.9},{"s":"200","x":457.0,"y":15.0},{"s":"200","x":457.5,"y":15.1},{"s":"200","x":458.0,"y":15.4},{"s":"200","x":458.5,"y":15.7},{"s":"200","x":459.0,"y":15.9},{"s":"200","x":459.5,"y":15.6},
{"s":"200","x":460.0,"y":15.2},{"s":"200","x":460.5,"y":15.0},{"s":"200","x":461.0,"y":14.9},{"s":"200","x":461.5,"y":14.8},{"s":"200","x":462.0,"y":14.9},{"s":"200","x":462.5,"y":15.0},{"s":"200","x":463.0,"y":14.9},{"s":"200","x":463.5,"y":15.0},{"s":"200","x":464.0,"y":15.1},{"s":"200","x":464.5,"y":15.2},
{"s":"200","x":465.0,"y":15.3},{"s":"200","x":465.5,"y":15.1},{"s":"200","x":466.0,"y":15.0},{"s":"200","x":466.5,"y":14.9},{"s":"200","x":467.0,"y":14.8},{"s":"200","x":467.5,"y":14.9},{"s":"200","x":468.0,"y":14.7},{"s":"200","x":468.5,"y":14.8},{"s":"200","x":469.0,"y":14.9},{"s":"200","x":469.5,"y":14.8},
{"s":"200","x":470.0,"y":14.9},{"s":"200","x":470.5,"y":15.0},{"s":"200","x":471.0,"y":14.8},{"s":"200","x":471.5,"y":14.9},{"s":"200","x":472.0,"y":14.7},{"s":"200","x":472.5,"y":14.8},{"s":"200","x":473.0,"y":14.9},{"s":"200","x":473.5,"y":14.7},{"s":"200","x":474.0,"y":14.8},{"s":"200","x":474.5,"y":14.7},{"s":"200","x":475.0,"y":14.7},
{"s":"100","x":450.0,"y":2.4},{"s":"100","x":450.5,"y":2.3},{"s":"100","x":451.0,"y":2.5},{"s":"100","x":451.5,"y":2.3},{"s":"100","x":452.0,"y":2.4},{"s":"100","x":452.5,"y":2.5},{"s":"100","x":453.0,"y":2.3},{"s":"100","x":453.5,"y":2.4},{"s":"100","x":454.0,"y":2.3},{"s":"100","x":454.5,"y":2.5},
{"s":"100","x":455.0,"y":2.4},{"s":"100","x":455.5,"y":2.3},{"s":"100","x":456.0,"y":2.4},{"s":"100","x":456.5,"y":2.5},{"s":"100","x":457.0,"y":2.3},{"s":"100","x":457.5,"y":2.4},{"s":"100","x":458.0,"y":2.5},{"s":"100","x":458.5,"y":2.4},{"s":"100","x":459.0,"y":2.6},{"s":"100","x":459.5,"y":2.4},
{"s":"100","x":460.0,"y":2.5},{"s":"100","x":460.5,"y":2.3},{"s":"100","x":461.0,"y":2.4},{"s":"100","x":461.5,"y":2.5},{"s":"100","x":462.0,"y":2.3},{"s":"100","x":462.5,"y":2.4},{"s":"100","x":463.0,"y":2.5},{"s":"100","x":463.5,"y":2.3},{"s":"100","x":464.0,"y":2.4},{"s":"100","x":464.5,"y":2.5},
{"s":"100","x":465.0,"y":2.6},{"s":"100","x":465.5,"y":2.4},{"s":"100","x":466.0,"y":2.3},{"s":"100","x":466.5,"y":2.5},{"s":"100","x":467.0,"y":2.4},{"s":"100","x":467.5,"y":2.3},{"s":"100","x":468.0,"y":2.5},{"s":"100","x":468.5,"y":2.4},{"s":"100","x":469.0,"y":2.3},{"s":"100","x":469.5,"y":2.5},
{"s":"100","x":470.0,"y":2.4},{"s":"100","x":470.5,"y":2.3},{"s":"100","x":471.0,"y":2.5},{"s":"100","x":471.5,"y":2.4},{"s":"100","x":472.0,"y":2.3},{"s":"100","x":472.5,"y":2.5},{"s":"100","x":473.0,"y":2.4},{"s":"100","x":473.5,"y":2.3},{"s":"100","x":474.0,"y":2.4},{"s":"100","x":474.5,"y":2.5},{"s":"100","x":475.0,"y":2.4}
]
},
"vconcat":[
 {
  "width":532,"height":430,
  "title":{"text":"(a)","anchor":"start","frame":"group","orient":"top","offset":-63,"dx":15,"fontSize":27,"fontWeight":"bold","color":"black","baseline":"alphabetic","font":"Liberation Sans"},
  "data":{"name":"a"},
  "mark":{"type":"line","strokeWidth":1.3},
  "encoding":{
   "x":{"field":"x","type":"quantitative","scale":{"domain":[448,471.8],"nice":false,"zero":false},
        "axis":{"title":"Binding energy (eV)","values":[448,451.5,455,458.5,462,465.5,469],"labelExpr":"datum.value % 7 === 0 ? datum.label : ''","tickSize":{"condition":{"test":"datum.value % 7 === 0","value":9},"value":5},"labelPadding":5,"titlePadding":6}},
   "y":{"field":"y","type":"quantitative","scale":{"domain":[0,100],"nice":false,"zero":false},"axis":{"title":"Counts/s (Arb. Units)","titleFontSize":32,"labels":false,"ticks":false,"titlePadding":25}},
   "color":{"field":"s","type":"nominal",
     "scale":{"domain":["1200","1000","800","600","400","300","200","100"],"range":["#8a1f2e","#34348c","#8c8c2a","#c25cc2","#23877a","#3c4ca8","#e8343a","#151515"]},
     "legend":{"title":null,"orient":"none","legendX":370,"legendY":38,"symbolType":"stroke","symbolSize":1849,"symbolStrokeWidth":1.5,"labelFontSize":21,"labelFontWeight":"bold","labelOffset":4,"rowPadding":13,"padding":0,"labelLimit":0,"labelExpr":"datum.label + ' cycles'"}}
  }
 },
 {
  "width":517,"height":417,
  "title":{"text":"(b)","anchor":"start","frame":"group","orient":"top","offset":-73,"dx":15,"fontSize":27,"fontWeight":"bold","color":"black","baseline":"alphabetic","font":"Liberation Sans"},
  "layer":[
   {"data":{"name":"peaks"},"mark":{"type":"rule","stroke":"#666666","strokeWidth":1,"strokeDash":[1.5,2]},
    "encoding":{"x":{"field":"x","type":"quantitative"},"y":{"field":"y","type":"quantitative"},"y2":{"datum":0}}},
   {"data":{"name":"b"},"mark":{"type":"line","strokeWidth":2},
    "encoding":{
     "x":{"field":"x","type":"quantitative","scale":{"domain":[450,475],"nice":false,"zero":false},
          "axis":{"title":"Binding energy (eV)","values":[450,452.5,455,457.5,460,462.5,465,467.5,470,472.5,475],"labelExpr":"datum.value % 5 === 0 ? datum.label : ''","tickSize":{"condition":{"test":"datum.value % 5 === 0","value":9},"value":5},"labelPadding":5,"titlePadding":10}},
     "y":{"field":"y","type":"quantitative","scale":{"domain":[0,100],"nice":false,"zero":false},"axis":{"title":"Counts/s (Arb. Units)","titleFontSize":32,"labels":false,"ticks":false,"titlePadding":25}},
     "color":{"field":"s","type":"nominal",
       "scale":{"domain":["600","400","300","200","100"],"range":["#b65ab6","#23877a","#3a48b0","#e8383a","#1a1a1a"]},
       "legend":{"title":null,"orient":"none","legendX":362,"legendY":114,"symbolType":"stroke","symbolSize":1444,"symbolStrokeWidth":2,"labelFontSize":22,"labelFontWeight":"normal","labelOffset":8,"rowPadding":30,"padding":0,"labelLimit":0,"labelExpr":"datum.label + ' cycles'"}}
    }},
   {"data":{"name":"peaks"},"mark":{"type":"text","fontSize":22,"fontWeight":"bold","dy":-6,"align":"center","baseline":"alphabetic","color":"black"},
    "encoding":{"x":{"field":"x","type":"quantitative"},"y":{"field":"y","type":"quantitative"},"text":{"field":"t"}}},
   {"data":{"name":"peaks"},"mark":{"type":"text","fontSize":13,"fontWeight":"bold","dx":24,"dy":0,"align":"left","baseline":"alphabetic","color":"black"},
    "encoding":{"x":{"field":"x","type":"quantitative"},"y":{"field":"y","type":"quantitative"},"text":{"field":"sub"}}}
  ]
 }
]
}
